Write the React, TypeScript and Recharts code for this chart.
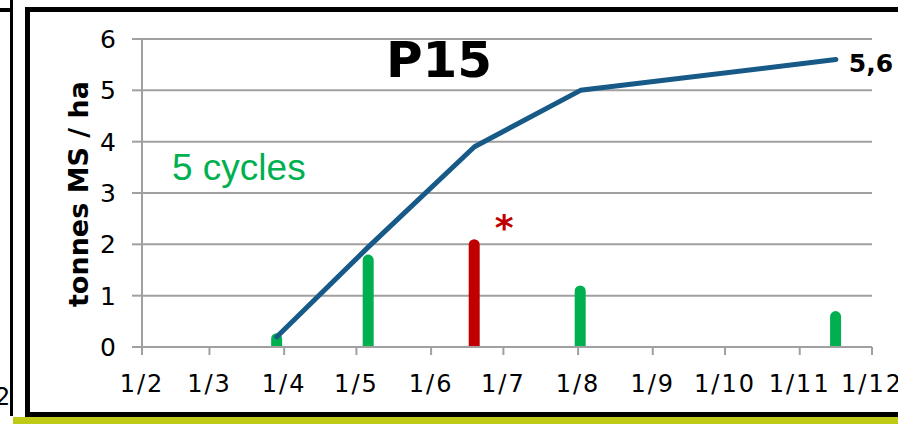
import React from 'react';
import { ComposedChart, Bar, Line, XAxis, YAxis, CartesianGrid, Cell, LabelList } from 'recharts';

// day-of-year for each harvest
const harvestDays = [88, 126, 170, 214, 320];
const harvestYield = [0.27, 1.8, 2.1, 1.2, 0.7];
const cumulYield = [0.2, 1.95, 3.9, 5.0, 5.6];
const barColors = ['#00b050', '#00b050', '#c00000', '#00b050', '#00b050'];

const monthTicks = [32, 60, 91, 121, 152, 182, 213, 244, 274, 305, 335];
const monthLabels = ['1/2', '1/3', '1/4', '1/5', '1/6', '1/7', '1/8', '1/9', '1/10', '1/11', '1/12'];
const yTicks = [0, 1, 2, 3, 4, 5, 6];

const data = harvestDays.map((d, i) => ({ day: d, harvest: harvestYield[i], cumul: cumulYield[i] }));

const GRID = '#a0a0a0';
const FONT = '"DejaVu Sans", Verdana, sans-serif';

const lastLabel = (props: any) => {
  const { x, y, index, value } = props;
  if (index !== cumulYield.length - 1) return null;
  return (
    <text x={x + 13} y={y + 12} fontFamily={FONT} fontWeight="bold" fontSize={25} fill="#000">
      {String(value).replace('.', ',')}
    </text>
  );
};

const starLabel = (props: any) => {
  const { x, y, width, index } = props;
  if (index !== 2) return null;
  return (
    <text x={x + width / 2 + 30} y={y + 1} textAnchor="middle" fontFamily={FONT} fontWeight="bold" fontSize={36} fill="#c00000">
      *
    </text>
  );
};

export default function App() {
  return (
    <div style={{ position: 'absolute', left: 0, top: 0, width: 898, height: 424, overflow: 'hidden', background: '#fff' }}>
      <div style={{ position: 'absolute', left: 10, top: 0, width: 3, height: 416, background: '#000' }} />
      <div style={{ position: 'absolute', left: 0, top: 8, width: 12, height: 4, background: '#000' }} />
      <div style={{ position: 'absolute', left: 13, top: 417, width: 885, height: 7, background: '#bfca17' }} />
      <div style={{ position: 'absolute', left: 25, top: 7, width: 900, height: 410, border: '5px solid #000', boxSizing: 'border-box' }} />
      <div style={{ position: 'absolute', left: 0, top: 0 }}>
        <ComposedChart width={898} height={424} data={data} margin={{ top: 39, right: 26, bottom: 0, left: 0 }}>
          <CartesianGrid horizontal vertical={false} stroke={GRID} strokeWidth={2} />
          <XAxis
            dataKey="day"
            type="number"
            domain={[32, 335]}
            ticks={monthTicks}
            tickFormatter={(v: number) => monthLabels[monthTicks.indexOf(v)]}
            height={77}
            tickSize={8}
            tickMargin={20}
            interval={0}
            axisLine={{ stroke: GRID, strokeWidth: 2 }}
            tickLine={{ stroke: GRID, strokeWidth: 2 }}
            tick={{ fill: '#000', fontSize: 24, fontFamily: FONT, letterSpacing: 2 }}
          />
          <YAxis
            type="number"
            domain={[0, 6]}
            ticks={yTicks}
            width={142}
            tickSize={10}
            tickMargin={16}
            interval={0}
            axisLine={{ stroke: GRID, strokeWidth: 2 }}
            tickLine={{ stroke: GRID, strokeWidth: 2 }}
            tick={{ fill: '#000', fontSize: 25, fontFamily: FONT }}
          />
          <Bar dataKey="harvest" barSize={11} radius={[5.5, 5.5, 0, 0]} isAnimationActive={false}>
            {data.map((_, i) => (
              <Cell key={i} fill={barColors[i]} />
            ))}
            <LabelList dataKey="harvest" content={starLabel} />
          </Bar>
          <Line
            dataKey="cumul"
            stroke="#175a88"
            strokeWidth={5}
            strokeLinecap="round"
            strokeLinejoin="round"
            dot={false}
            isAnimationActive={false}
          >
            <LabelList dataKey="cumul" content={lastLabel} />
          </Line>
        </ComposedChart>
      </div>
      <svg width={898} height={424} style={{ position: 'absolute', left: 0, top: 0, pointerEvents: 'none' }}>
        <text x={439} y={77} textAnchor="middle" fontFamily={FONT} fontWeight="bold" fontSize={50} fill="#000">P15</text>
        <text x={172} y={180} fontFamily='"Liberation Sans", Arial, sans-serif' fontSize={37} fill="#00b050">5 cycles</text>
        <text transform="translate(88,194) rotate(-90)" textAnchor="middle" fontFamily={FONT} fontWeight="bold" fontSize={27} fill="#000">tonnes MS / ha</text>
        <text x={-5} y={405} fontFamily={FONT} fontSize={24} fill="#000">2</text>
      </svg>
    </div>
  );
}
